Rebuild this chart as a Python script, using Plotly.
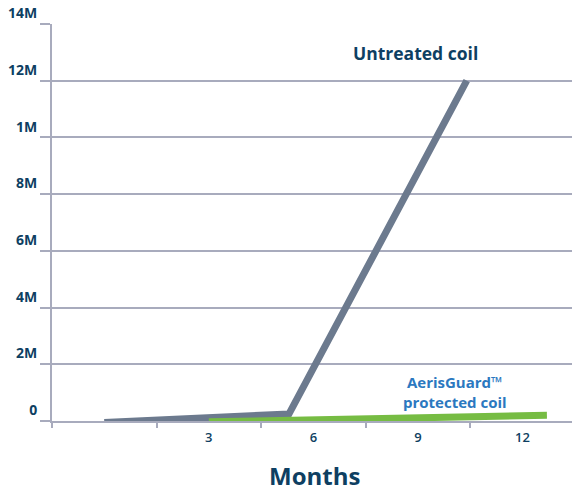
import plotly.graph_objects as go

# data (months vs. microbe count, in millions)
untreated_months = [0, 5.3, 10.4]
untreated_count = [-0.05, 0.25, 12.0]
protected_months = [3, 12.7]
protected_count = [-0.03, 0.2]

y_tick_vals = [0, 2, 4, 6, 8, 10, 12, 14]
y_tick_text = ["0", "2M", "4M", "6M", "8M", "1M", "12M", "14M"]
x_tick_vals = [3, 6, 9, 12]
x_tick_text = ["3", "6", "9", "12"]

navy = "#0e3f62"
grid = "#a8abbd"
font_family = "Open Sans"

fig = go.Figure()

# untreated coil, grey line
fig.add_trace(go.Scatter(
    x=untreated_months, y=untreated_count,
    mode="lines", line=dict(color="#6c7a8e", width=7),
    hoverinfo="skip", cliponaxis=False,
))

# AerisGuard protected coil, green line
fig.add_trace(go.Scatter(
    x=protected_months, y=protected_count,
    mode="lines", line=dict(color="#76bc43", width=7),
    hoverinfo="skip", cliponaxis=False,
))

fig.add_annotation(
    x=8.92, y=12.97, text="Untreated coil", showarrow=False,
    font=dict(family=font_family, size=17.5, color=navy, weight="bold"),
)
fig.add_annotation(
    x=10.05, y=1.03, text="AerisGuard™<br>protected coil", showarrow=False,
    font=dict(family=font_family, size=15, color="#2b78c0", weight="bold"),
)
# x axis title, placed lower than plotly's margin-bound axis title allows
fig.add_annotation(
    xref="paper", yref="paper", x=0.505, y=0, yshift=-54, yanchor="middle",
    text="Months", showarrow=False, borderpad=0,
    font=dict(family=font_family, size=24, color=navy, weight="bold"),
)

fig.update_layout(
    width=572, height=491,
    margin=dict(l=52, r=0, t=24, b=70),
    plot_bgcolor="white", paper_bgcolor="white",
    showlegend=False,
    font=dict(family=font_family, color=navy),
)

fig.update_xaxes(
    range=[-1.5, 13.42], automargin=False,
    tickmode="array", tickvals=x_tick_vals, ticktext=x_tick_text,
    ticks="", showgrid=False, zeroline=False, ticklabelstandoff=3,
    showline=True, linecolor=grid, linewidth=2,
    tickfont=dict(family=font_family, size=13, color=navy, weight=600),
    minor=dict(tick0=-1.5, dtick=3, ticks="outside", ticklen=5, tickwidth=2,
               tickcolor=grid, showgrid=False),
)

fig.update_yaxes(
    range=[0, 14], automargin=False,
    tickmode="array", tickvals=y_tick_vals, ticktext=y_tick_text,
    ticks="outside", ticklen=10, tickwidth=2, tickcolor=grid,
    ticklabelposition="outside top", ticklabelstandoff=10,
    showgrid=True, gridcolor=grid, gridwidth=2, zeroline=False,
    showline=True, linecolor=grid, linewidth=2,
    tickfont=dict(family=font_family, size=14, color=navy, weight="bold"),
)

# drop the default page margin so the figure sits at the window's corner
fig.write_html(
    "out.html",
    config={"displayModeBar": False},
    post_script="document.body.style.margin='0';document.body.style.overflow='hidden';",
)
